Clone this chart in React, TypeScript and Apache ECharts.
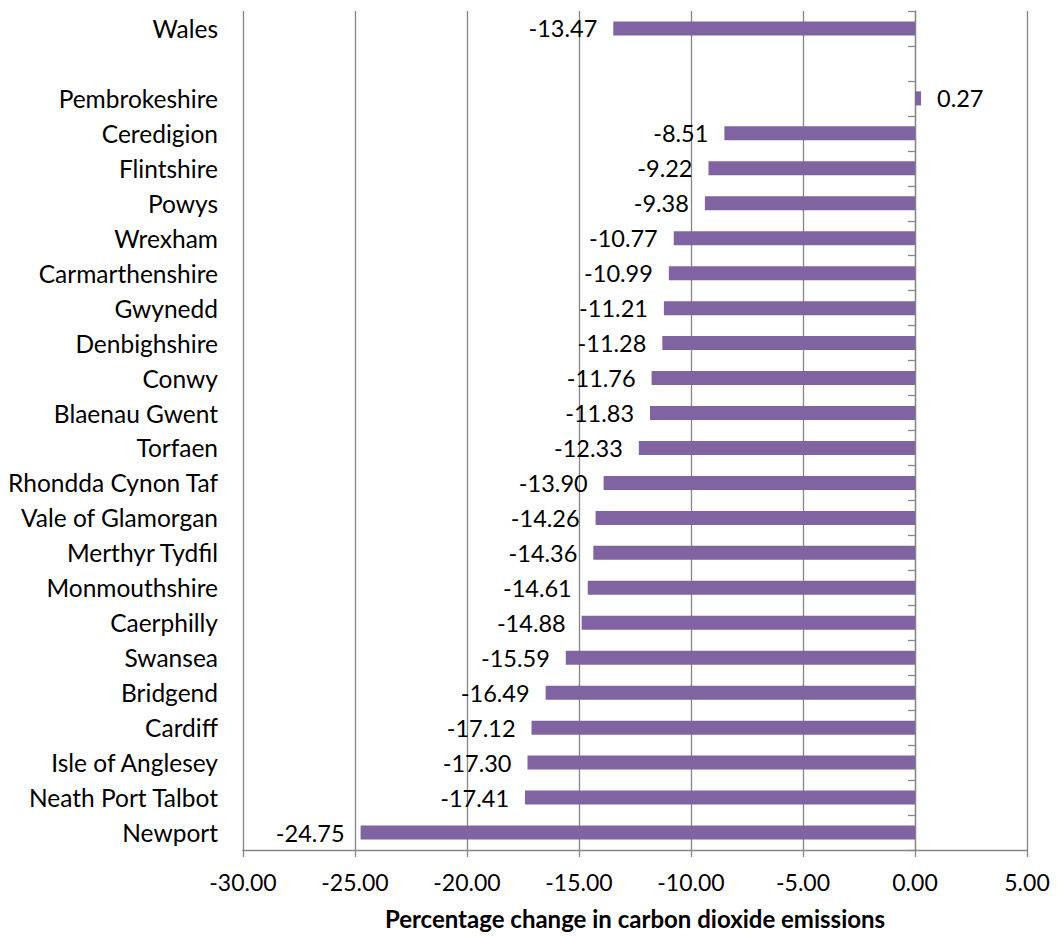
import React, { useEffect, useRef } from "react";
import * as echarts from "echarts";

// Local authorities, top to bottom; the blank entry separates the Wales total
const categories: string[] = [
  "Wales",
  "",
  "Pembrokeshire",
  "Ceredigion",
  "Flintshire",
  "Powys",
  "Wrexham",
  "Carmarthenshire",
  "Gwynedd",
  "Denbighshire",
  "Conwy",
  "Blaenau Gwent",
  "Torfaen",
  "Rhondda Cynon Taf",
  "Vale of Glamorgan",
  "Merthyr Tydfil",
  "Monmouthshire",
  "Caerphilly",
  "Swansea",
  "Bridgend",
  "Cardiff",
  "Isle of Anglesey",
  "Neath Port Talbot",
  "Newport",
];

const changes: (number | null)[] = [
  -13.47, null, 0.27, -8.51, -9.22, -9.38, -10.77, -10.99, -11.21, -11.28,
  -11.76, -11.83, -12.33, -13.9, -14.26, -14.36, -14.61, -14.88, -15.59,
  -16.49, -17.12, -17.3, -17.41, -24.75,
];

const xMin = -30;
const xMax = 5;
const xStep = 5;

const FONT = "Lato";
const GREY = "#868686";
const PURPLE = "#8064A2";

export default function App() {
  const ref = useRef<HTMLDivElement>(null);

  useEffect(() => {
    document.body.style.margin = "0";
    if (!ref.current) return;
    const chart = echarts.init(ref.current, undefined, { renderer: "svg" });

    const seriesData = changes.map((v) =>
      v === null
        ? { value: null }
        : {
            value: v,
            label: { position: v < 0 ? "left" : "right" },
          }
    );

    chart.setOption({
      animation: false,
      grid: {
        left: 243,
        right: 30,
        top: 11,
        bottom: 86,
        containLabel: false,
        outerBoundsMode: "none",
      },
      xAxis: {
        type: "value",
        min: xMin,
        max: xMax,
        interval: xStep,
        axisLine: { show: true, lineStyle: { color: GREY, width: 1.3 } },
        axisTick: { show: true, length: 7, lineStyle: { color: GREY, width: 1.3 } },
        splitLine: { show: true, lineStyle: { color: GREY, width: 1.3 } },
        axisLabel: {
          formatter: (v: number) => v.toFixed(2),
          color: "#000",
          fontFamily: FONT,
          fontSize: 23,
          margin: 20,
        },
        name: "Percentage change in carbon dioxide emissions",
        nameLocation: "middle",
        nameGap: 56,
        nameTextStyle: {
          color: "#000",
          fontFamily: FONT,
          fontSize: 24,
          fontWeight: "bold",
        },
      },
      yAxis: [
        {
          type: "category",
          data: categories,
          inverse: true,
          axisLine: { show: true, onZero: true, lineStyle: { color: GREY, width: 1.3 } },
          axisTick: { show: true, length: 7, lineStyle: { color: GREY, width: 1.3 } },
          axisLabel: { show: false },
          splitLine: { show: false },
        },
        {
          type: "category",
          data: categories,
          inverse: true,
          position: "left",
          axisLine: { show: false, onZero: false },
          axisTick: { show: false },
          splitLine: { show: false },
          axisLabel: {
            color: "#000",
            fontFamily: FONT,
            fontSize: 24.5,
            margin: 25,
          },
        },
      ],
      series: [
        {
          type: "bar",
          yAxisIndex: 0,
          data: seriesData,
          barWidth: 14,
          itemStyle: { color: PURPLE },
          label: {
            show: true,
            distance: 16,
            color: "#000",
            fontFamily: FONT,
            fontSize: 23.5,
            formatter: (p: any) => (p.value == null ? "" : Number(p.value).toFixed(2)),
          },
        },
      ],
    });

    return () => chart.dispose();
  }, []);

  return <div ref={ref} style={{ width: 1057, height: 936 }} />;
}
